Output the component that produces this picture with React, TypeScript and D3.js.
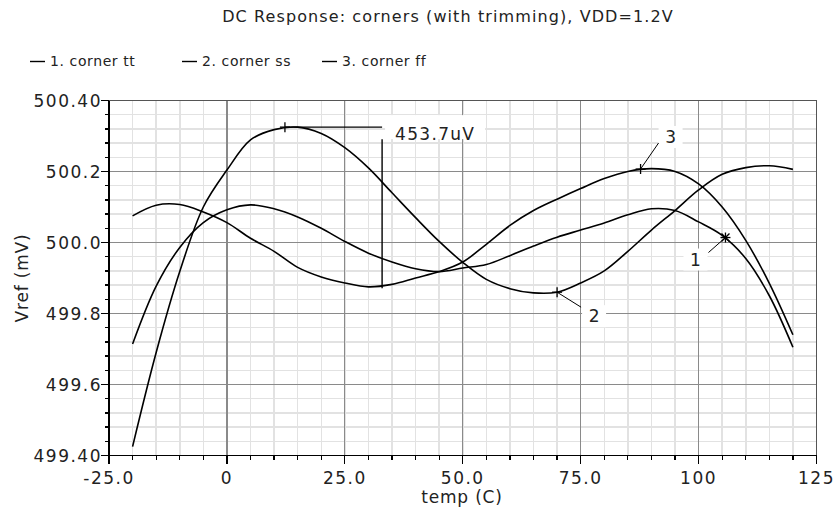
import React from "react";
import * as d3 from "d3";

// temperatures (C) sampled along the sweep
const temps = [
  -20, -15, -10, -5, 0, 5, 10, 15, 20, 25, 30, 35, 40, 45, 50,
  55, 60, 65, 70, 75, 80, 85, 90, 95, 100, 105, 110, 115, 120,
];

// Vref (mV) per corner
const cornerTT = [
  499.714, 499.877, 499.986, 500.056, 500.092, 500.106, 500.095, 500.072, 500.04, 500.003,
  499.97, 499.945, 499.926, 499.918, 499.928, 499.938, 499.963, 499.99, 500.015, 500.035,
  500.055, 500.078, 500.095, 500.09, 500.058, 500.02, 499.955, 499.85, 499.705,
];
const cornerSS = [
  499.425, 499.69, 499.918, 500.1, 500.204, 500.289, 500.318, 500.325, 500.307, 500.267,
  500.21, 500.14, 500.07, 500.003, 499.944, 499.896, 499.87, 499.858, 499.86, 499.886,
  499.92, 499.975, 500.035, 500.09, 500.148, 500.192, 500.211, 500.216, 500.206,
];
const cornerFF = [
  500.075, 500.105, 500.107, 500.086, 500.056, 500.012, 499.975, 499.93, 499.903, 499.886,
  499.875, 499.882, 499.9, 499.918, 499.945, 499.995, 500.048, 500.09, 500.122, 500.152,
  500.18, 500.2, 500.208, 500.2, 500.165, 500.1, 500.006, 499.885, 499.74,
];

const seriesNames = ["1. corner tt", "2. corner ss", "3. corner ff"];

const xTickValues = [-25, 0, 25, 50, 75, 100, 125];
const xTickLabels = ["-25.0", "0", "25.0", "50.0", "75.0", "100", "125"];
const yTickValues = [499.4, 499.6, 499.8, 500.0, 500.2, 500.4];
const yTickLabels = ["499.40", "499.6", "499.8", "500.0", "500.2", "500.40"];

// point markers placed on the traces
const markerLabels = ["1", "2", "3"];
const markerTemps = [105.7, 70, 87.7];
const markerValues = [500.014, 499.86, 500.207];

// delta marker (max of ss vs min of ff)
const deltaTemps = [12.3, 32.9];
const deltaValues = [500.325, 499.871];
const deltaLabel = "453.7uV";

const W = 836;
const H = 510;
const left = 109;
const right = 816.5;
const top = 100.5;
const bottom = 455.5;
const font = "'DejaVu Sans', sans-serif";

const x = d3.scaleLinear().domain([-25, 125]).range([left, right]);
const y = d3.scaleLinear().domain([499.4, 500.4]).range([bottom, top]);

const minorX = d3.range(-25, 125.001, 5);
const minorY = d3.range(0, 26).map(i => 499.4 + i * 0.04);

const line = d3
  .line<number>()
  .x((d, i) => x(temps[i]))
  .y(d => y(d))
  .curve(d3.curveCatmullRom.alpha(0.5));

// label offsets relative to each marker: leader end and text anchor
const labelOffsets = [
  { lx: -17, ly: 15, tx: -30, ty: 28 },
  { lx: 24, ly: 15, tx: 37, ty: 30 },
  { lx: 18, ly: -26, tx: 30, ty: -26 },
];
const legendX = [30, 182, 322];

const Marker = ({ cx, cy, star }: { cx: number; cy: number; star?: boolean }) => (
  <g stroke="#000" strokeWidth={1.3}>
    <line x1={cx - 5} x2={cx + 5} y1={cy} y2={cy} />
    <line x1={cx} x2={cx} y1={cy - 5} y2={cy + 5} />
    {star && (
      <>
        <line x1={cx - 4} x2={cx + 4} y1={cy - 4} y2={cy + 4} />
        <line x1={cx - 4} x2={cx + 4} y1={cy + 4} y2={cy - 4} />
      </>
    )}
  </g>
);

const App = () => {
  const series = [cornerTT, cornerSS, cornerFF];
  const dx0 = x(deltaTemps[0]);
  const dx1 = x(deltaTemps[1]);
  const dyTop = y(deltaValues[0]);
  const dyBot = y(deltaValues[1]);

  return (
    <svg
      width={W}
      height={H}
      style={{ position: "absolute", left: 0, top: 0, background: "#fff" }}
      fontFamily={font}
    >
      <rect width={W} height={H} fill="#fff" />
      <text x={448} y={22} textAnchor="middle" fontSize={16} letterSpacing={1.1} fill="#222">
        DC Response: corners (with trimming), VDD=1.2V
      </text>

      {seriesNames.map((name, i) => (
        <g key={name}>
          <line x1={legendX[i]} x2={legendX[i] + 15} y1={61.5} y2={61.5} stroke="#000" strokeWidth={1.4} />
          <text x={legendX[i] + 20} y={66} fontSize={14} letterSpacing={0.6} fill="#222">
            {name}
          </text>
        </g>
      ))}

      {/* grid */}
      <g shapeRendering="crispEdges">
        {minorX.map(v => (
          <line key={"mx" + v} x1={x(v)} x2={x(v)} y1={top} y2={bottom} stroke="#e2e2e2" strokeWidth={1.5} />
        ))}
        {minorY.map(v => (
          <line key={"my" + v} x1={left} x2={right} y1={y(v)} y2={y(v)} stroke="#e2e2e2" strokeWidth={1.5} />
        ))}
        {xTickValues.map(v => (
          <line key={"gx" + v} x1={x(v)} x2={x(v)} y1={top} y2={bottom} stroke="#8a8a8a" strokeWidth={1.2} />
        ))}
        {yTickValues.map(v => (
          <line key={"gy" + v} x1={left} x2={right} y1={y(v)} y2={y(v)} stroke="#8a8a8a" strokeWidth={1.2} />
        ))}
        <rect x={left} y={top} width={right - left} height={bottom - top} fill="none" stroke="#555" strokeWidth={1.5} />
      </g>

      {/* axes */}
      <g stroke="#000" strokeWidth={1.3} shapeRendering="crispEdges">
        <line x1={left} x2={left} y1={top} y2={bottom} />
        <line x1={left} x2={right} y1={bottom} y2={bottom} />
        {minorX.map(v => (
          <line key={"tx" + v} x1={x(v)} x2={x(v)} y1={bottom} y2={bottom + (xTickValues.includes(v) ? 8 : 4)} />
        ))}
        {minorY.map((v, i) => (
          <line key={"ty" + v} x1={left - (i % 5 === 0 ? 8 : 4)} x2={left} y1={y(v)} y2={y(v)} />
        ))}
      </g>
      {xTickValues.map((v, i) => (
        <text key={"xl" + v} x={x(v)} y={484} textAnchor="middle" fontSize={17} letterSpacing={1.5} fill="#222">
          {xTickLabels[i]}
        </text>
      ))}
      {yTickValues.map((v, i) => (
        <text key={"yl" + v} x={102} y={y(v) + 6} textAnchor="end" fontSize={17} letterSpacing={1.5} fill="#222">
          {yTickLabels[i]}
        </text>
      ))}
      <text x={462} y={503} textAnchor="middle" fontSize={17} letterSpacing={0.8} fill="#222">
        temp (C)
      </text>
      <text
        transform={`translate(28,${(top + bottom) / 2}) rotate(-90)`}
        textAnchor="middle"
        fontSize={17}
        letterSpacing={0.8}
        fill="#222"
      >
        Vref (mV)
      </text>

      {/* traces */}
      {series.map((s, i) => (
        <path key={i} d={line(s) || ""} fill="none" stroke="#000" strokeWidth={1.6} />
      ))}

      {/* delta marker */}
      <g stroke="#000" strokeWidth={1.4}>
        <line x1={dx0} x2={dx1} y1={dyTop} y2={dyTop} />
        <line x1={dx1} x2={dx1} y1={dyTop + 12} y2={dyBot} />
      </g>
      <Marker cx={dx0} cy={dyTop} />
      <rect x={dx1 + 3} y={dyTop - 12} width={100} height={24} fill="#fff" />
      <text x={dx1 + 13} y={dyTop + 12.5} fontSize={17} letterSpacing={1.3} fill="#222">
        {deltaLabel}
      </text>

      {/* labelled point markers */}
      {markerLabels.map((lab, i) => {
        const mx = x(markerTemps[i]);
        const my = y(markerValues[i]);
        const o = labelOffsets[i];
        return (
          <g key={lab}>
            <rect x={mx + o.tx - 12} y={my + o.ty - 17} width={24} height={22} fill="#fff" />
            <line x1={mx} y1={my} x2={mx + o.lx} y2={my + o.ly} stroke="#000" strokeWidth={1} />
            <Marker cx={mx} cy={my} star={i === 0} />
            <text x={mx + o.tx} y={my + o.ty} textAnchor="middle" fontSize={17} fill="#222">
              {lab}
            </text>
          </g>
        );
      })}
    </svg>
  );
};

export default App;
